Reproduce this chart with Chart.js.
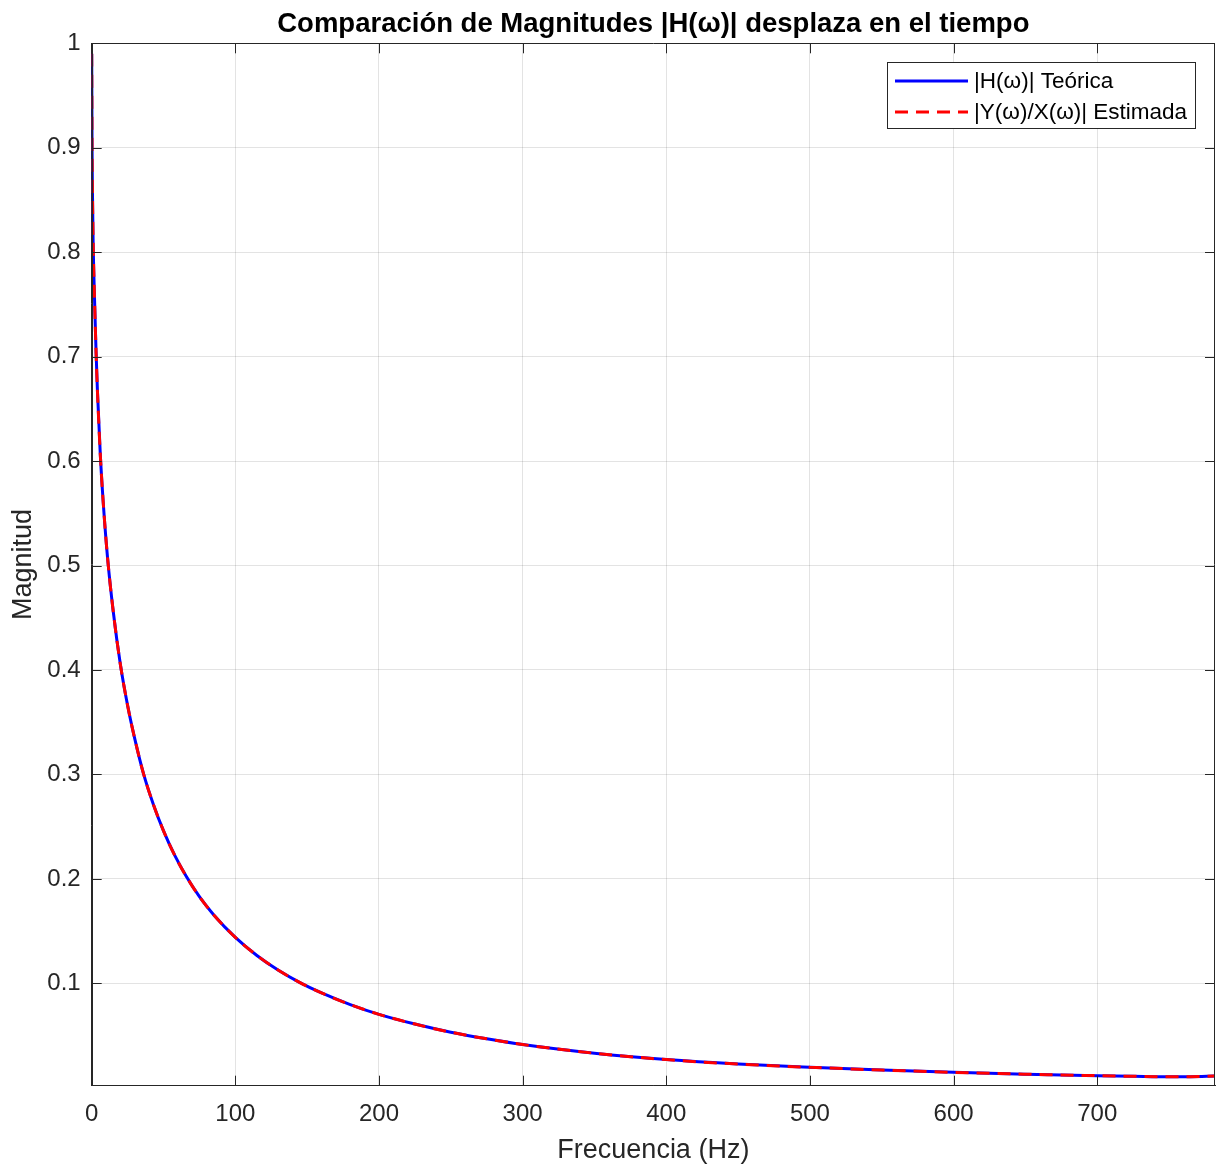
<!DOCTYPE html>
<html>
<head>
<meta charset="utf-8">
<script src="https://cdn.jsdelivr.net/npm/chart.js@4.4.1/dist/chart.umd.min.js"></script>
<style>
  html, body { margin: 0; padding: 0; background: #ffffff; }
  #wrap { width: 1217px; height: 1164px; }
</style>
</head>
<body>
<div id="wrap"><canvas id="c" width="1217" height="1164"></canvas></div>
<script>
// ---- Data ----
const frecuencias = [0, 0.25, 0.5, 1, 2, 3, 4, 6, 8, 11, 15, 20, 25, 30, 36, 43, 50, 58, 66, 75, 85, 100, 115, 130, 145, 160, 180, 200, 225, 250, 275, 300, 350, 400, 450, 500, 550, 600, 650, 700, 725, 750, 765, 782];
const magTeorica = [0.99, 0.90, 0.86, 0.81, 0.754, 0.706, 0.667, 0.606, 0.561, 0.508, 0.456, 0.405, 0.366, 0.334, 0.301, 0.271, 0.246, 0.222, 0.202, 0.183, 0.1655, 0.144, 0.1267, 0.1125, 0.1007, 0.0908, 0.0797, 0.0703, 0.0610, 0.0532, 0.0469, 0.0414, 0.0331, 0.0270, 0.0227, 0.0196, 0.0170, 0.0148, 0.0130, 0.0116, 0.0110, 0.0105, 0.0106, 0.0112];
const magEstimada = [0.99, 0.90, 0.86, 0.81, 0.754, 0.706, 0.667, 0.606, 0.561, 0.508, 0.456, 0.405, 0.366, 0.334, 0.301, 0.271, 0.246, 0.222, 0.202, 0.183, 0.1655, 0.144, 0.1267, 0.1125, 0.1007, 0.0908, 0.0797, 0.0703, 0.0610, 0.0532, 0.0469, 0.0414, 0.0331, 0.0270, 0.0227, 0.0196, 0.0170, 0.0148, 0.0130, 0.0116, 0.0110, 0.0105, 0.0106, 0.0112];
const xTicks = [0, 100, 200, 300, 400, 500, 600, 700];
const yTicks = [0.1, 0.2, 0.3, 0.4, 0.5, 0.6, 0.7, 0.8, 0.9, 1];
const xRange = [0, 782];
const yRange = [0.002, 1];
const titulo = 'Comparación de Magnitudes |H(ω)| desplaza en el tiempo';
const etiquetaX = 'Frecuencia (Hz)';
const etiquetaY = 'Magnitud';
const nombres = ['|H(ω)| Teórica', '|Y(ω)/X(ω)| Estimada'];

const FONT = '"Liberation Sans", Arial, Helvetica, sans-serif';
const AXIS_COLOR = '#262626';

const toXY = (xs, ys) => xs.map((x, i) => ({ x: x, y: ys[i] }));

// Box + inward ticks on all four sides, and legend inside the plot area
const boxPlugin = {
  id: 'boxTicks',
  afterDatasetsDraw(chart) {
    const { ctx, chartArea: a, scales } = chart;
    ctx.save();
    ctx.strokeStyle = AXIS_COLOR;
    ctx.lineWidth = 1;
    const L = 10;
    ctx.beginPath();
    xTicks.forEach(v => {
      const px = Math.round(scales.x.getPixelForValue(v)) + 0.5;
      ctx.moveTo(px, a.bottom); ctx.lineTo(px, a.bottom - L);
      ctx.moveTo(px, a.top); ctx.lineTo(px, a.top + L);
    });
    yTicks.forEach(v => {
      const py = Math.round(scales.y.getPixelForValue(v)) + 0.5;
      ctx.moveTo(a.left, py); ctx.lineTo(a.left + L, py);
      ctx.moveTo(a.right, py); ctx.lineTo(a.right - L, py);
    });
    ctx.stroke();
    ctx.beginPath();
    ctx.rect(Math.round(a.left) + 0.5, Math.round(a.top) + 0.5, Math.round(a.right - a.left) - 1, Math.round(a.bottom - a.top));
    ctx.stroke();
    ctx.restore();
  },
  afterDraw(chart) {
    const { ctx } = chart;
    ctx.save();
    const bx = 887.5, by = 62.5, bw = 308, bh = 66;
    ctx.fillStyle = '#ffffff';
    ctx.fillRect(bx, by, bw, bh);
    ctx.strokeStyle = AXIS_COLOR;
    ctx.lineWidth = 1;
    ctx.strokeRect(bx, by, bw, bh);
    const ds = chart.data.datasets;
    const rows = [81, 112];
    [1, 0].forEach((di, r) => {
      const d = ds[di];
      ctx.beginPath();
      ctx.strokeStyle = d.borderColor;
      ctx.lineWidth = d.borderWidth;
      ctx.setLineDash(d.borderDash || []);
      ctx.moveTo(895, rows[r]);
      ctx.lineTo(968, rows[r]);
      ctx.stroke();
      ctx.setLineDash([]);
      ctx.fillStyle = '#000000';
      ctx.font = '22.5px ' + FONT;
      ctx.textBaseline = 'middle';
      ctx.textAlign = 'left';
      ctx.fillText(d.label, 974, rows[r] + 1);
    });
    ctx.restore();
  }
};

new Chart(document.getElementById('c'), {
  type: 'line',
  data: {
    datasets: [
      {
        label: nombres[1],
        data: toXY(frecuencias, magEstimada),
        borderColor: '#ff0000',
        borderWidth: 3,
        borderDash: [13, 8],
        pointRadius: 0,
        cubicInterpolationMode: 'monotone',
        order: 1
      },
      {
        label: nombres[0],
        data: toXY(frecuencias, magTeorica),
        borderColor: '#0000ff',
        borderWidth: 3,
        pointRadius: 0,
        cubicInterpolationMode: 'monotone',
        order: 2
      }
    ]
  },
  options: {
    responsive: false,
    animation: false,
    devicePixelRatio: 1,
    layout: { padding: { left: 0, right: 2, top: 0, bottom: 0 } },
    plugins: {
      legend: { display: false },
      tooltip: { enabled: false },
      title: {
        display: true,
        fullSize: false,
        text: titulo,
        color: '#000000',
        font: { family: FONT, size: 27.5, weight: 'bold', lineHeight: 1.2 },
        padding: { top: 8, bottom: 2.3 }
      }
    },
    scales: {
      x: {
        type: 'linear',
        min: xRange[0],
        max: xRange[1],
        afterBuildTicks: s => { s.ticks = xTicks.map(v => ({ value: v })); },
        afterFit: s => { s.height = 78.3; },
        ticks: {
          color: AXIS_COLOR,
          font: { family: FONT, size: 24 },
          padding: 14,
          maxRotation: 0,
          callback: v => String(v)
        },
        grid: { color: 'rgba(38,38,38,0.13)', drawTicks: false, lineWidth: 1 },
        border: { display: true, color: AXIS_COLOR, width: 1 },
        title: {
          display: true,
          text: etiquetaX,
          color: AXIS_COLOR,
          font: { family: FONT, size: 27, lineHeight: 1.0 },
          padding: { top: 0, bottom: 0 }
        }
      },
      y: {
        type: 'linear',
        min: yRange[0],
        max: yRange[1],
        afterBuildTicks: s => { s.ticks = yTicks.map(v => ({ value: v })); },
        afterFit: s => { s.width = 91.7; },
        ticks: {
          color: AXIS_COLOR,
          font: { family: FONT, size: 24 },
          padding: 11,
          callback: v => String(v)
        },
        grid: { color: 'rgba(38,38,38,0.13)', drawTicks: false, lineWidth: 1 },
        border: { display: true, color: AXIS_COLOR, width: 1 },
        title: {
          display: true,
          text: etiquetaY,
          color: AXIS_COLOR,
          font: { family: FONT, size: 27, lineHeight: 1.2 },
          padding: { top: 7, bottom: 0 }
        }
      }
    }
  },
  plugins: [boxPlugin]
});
</script>
</body>
</html>
